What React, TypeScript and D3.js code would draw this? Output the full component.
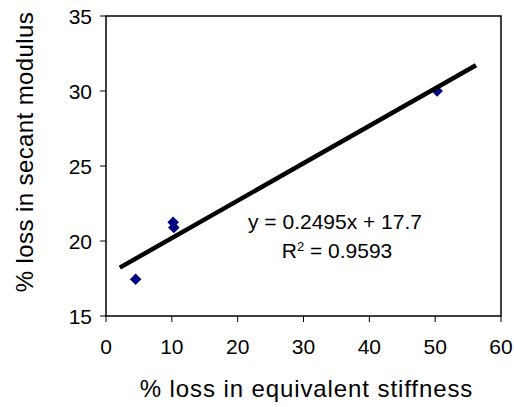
import React from "react";
import * as d3 from "d3";

const stiffnessLoss = [4.5, 10.2, 10.3, 50.3];
const secantLoss = [17.45, 21.25, 20.9, 30.0];
const xTicks = [0, 10, 20, 30, 40, 50, 60];
const yTicks = [15, 20, 25, 30, 35];
const trendSlope = 0.2495;
const trendIntercept = 17.7;
const trendRange = [2.1, 56.2];
const equationText = "y = 0.2495x + 17.7";
const r2Value = "0.9593";
const xTitle = "% loss in equivalent stiffness";
const yTitle = "% loss in secant modulus";

const W = 514;
const H = 407;
const left = 106, right = 501, top = 16, bottom = 316;
const FONT = "'Liberation Sans', Arial, Helvetica, sans-serif";

export default function App() {
  const x = d3.scaleLinear().domain([0, 60]).range([left, right]);
  const y = d3.scaleLinear().domain([15, 35]).range([bottom, top]);
  const line = d3.line<number>().x((d) => x(d)).y((d) => y(trendSlope * d + trendIntercept));
  const diamond = d3.symbol().type(d3.symbolDiamond2).size(85)();
  return (
    <svg width={W} height={H} style={{ position: "absolute", left: 0, top: 0, background: "#fff" }} fontFamily={FONT}>
      <rect x={0} y={0} width={W} height={H} fill="#fff" />
      <rect x={left} y={top} width={right - left} height={bottom - top} fill="none" stroke="#000" strokeWidth={1.5} />
      {yTicks.map((t) => (
        <g key={"y" + t}>
          <line x1={left - 6} x2={left} y1={y(t)} y2={y(t)} stroke="#000" strokeWidth={1} />
          <text x={92} y={y(t)} dy="0.36em" textAnchor="end" fontSize={21} fill="#000">{t}</text>
        </g>
      ))}
      {xTicks.map((t) => (
        <g key={"x" + t}>
          <line x1={x(t)} x2={x(t)} y1={bottom} y2={bottom + 6} stroke="#000" strokeWidth={1} />
          <text x={x(t)} y={354} textAnchor="middle" fontSize={21} fill="#000">{t}</text>
        </g>
      ))}
      {stiffnessLoss.map((v, i) => (
        <path key={"p" + i} d={diamond} transform={`translate(${x(v)},${y(secantLoss[i])})`} fill="#000080" />
      ))}
      <path d={line(trendRange) || ""} stroke="#000" strokeWidth={4.5} fill="none" />
      <text x={335} y={229} textAnchor="middle" fontSize={21} fill="#000">{equationText}</text>
      <text x={337} y={257.5} textAnchor="middle" fontSize={21} fill="#000">
        R<tspan dy={-7} fontSize={13}>2</tspan><tspan dy={7}> = {r2Value}</tspan>
      </text>
      <text x={306.5} y={397} textAnchor="middle" fontSize={24} letterSpacing={0.9} fill="#000">{xTitle}</text>
      <text transform={`translate(33,152) rotate(-90)`} textAnchor="middle" fontSize={24} letterSpacing={0.4} fill="#000">{yTitle}</text>
    </svg>
  );
}
